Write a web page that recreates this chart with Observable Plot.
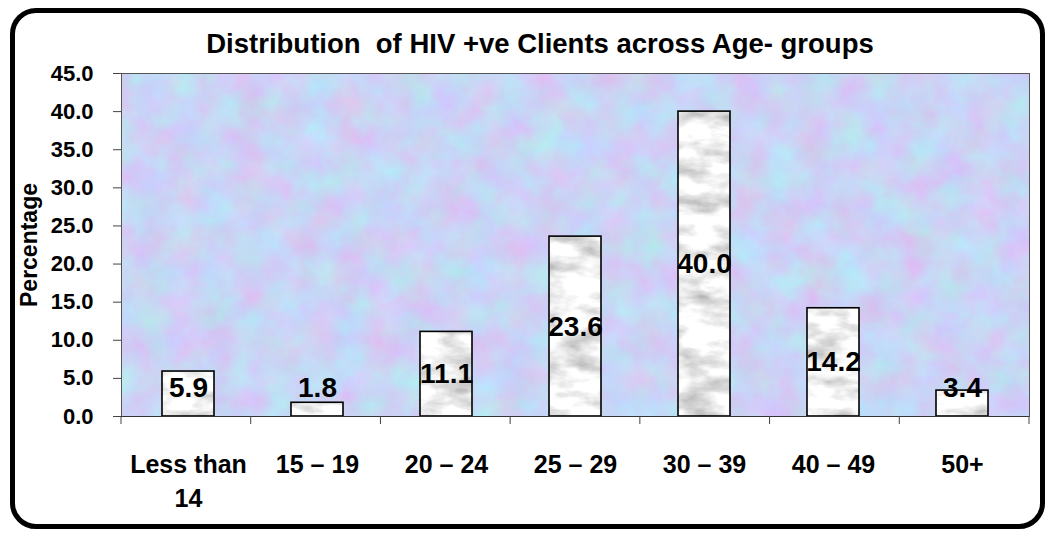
<!DOCTYPE html>
<html>
<head>
<meta charset="utf-8">
<script src="https://cdn.jsdelivr.net/npm/d3@7"></script>
<script src="https://cdn.jsdelivr.net/npm/@observablehq/plot@0.6"></script>
<style>
  html, body { margin: 0; padding: 0; background: #fff; }
  #wrap { position: relative; width: 1047px; height: 533px; overflow: hidden;
          font-family: "Liberation Sans", Arial, sans-serif; }
  #border { position: absolute; left: 10px; top: 8px; width: 1025px; height: 511px;
            border: 5px solid #000; border-radius: 26px; }
  #title { position: relative; height: 60px; box-sizing: border-box; padding-top: 30px;
           width: 1080px; text-align: center; font-weight: bold; font-size: 27.5px;
           line-height: 27.5px; white-space: pre; color: #000; }
  #chart { position: relative; }
</style>
</head>
<body>
<div id="wrap">
  <div id="border"></div>
  <div id="title">Distribution  of HIV +ve Clients across Age- groups</div>
  <div id="chart"></div>
</div>
<script>
const categories = ["Less than 14", "15 – 19", "20 – 24", "25 – 29", "30 – 39", "40 – 49", "50+"];
const tickLabels = ["Less than\n14", "15 – 19", "20 – 24", "25 – 29", "30 – 39", "40 – 49", "50+"];
const percentages = [5.9, 1.8, 11.1, 23.6, 40.0, 14.2, 3.4];
const yTicks = [0, 5, 10, 15, 20, 25, 30, 35, 40, 45];
const yLabel = "Percentage";

const data = categories.map((c, i) => ({group: c, value: percentages[i], tick: tickLabels[i]}));

const boundaryTicks = (index, scales, values, dims) => {
  const n = categories.length;
  const step = (dims.width - dims.marginLeft - dims.marginRight) / n;
  const y0 = dims.height - dims.marginBottom;
  const g = d3.create("svg:g");
  g.selectAll("line").data(d3.range(n + 1)).join("line")
    .attr("x1", i => dims.marginLeft + i * step)
    .attr("x2", i => dims.marginLeft + i * step)
    .attr("y1", y0).attr("y2", y0 + 8)
    .attr("stroke", "#444").attr("stroke-width", 1);
  return g.node();
};

const chart = Plot.plot({
  width: 1047,
  height: 473,
  marginLeft: 121,
  marginRight: 18,
  marginTop: 13,
  marginBottom: 117,
  style: {fontFamily: "'Liberation Sans', Arial, sans-serif", fontWeight: "bold", color: "#000", background: "transparent", overflow: "visible"},
  x: {domain: categories, paddingInner: 0.6, paddingOuter: 0.3, axis: null},
  y: {domain: [0, 45], axis: null},
  marks: [
    Plot.frame({fill: "#c8d4f5", stroke: null}),
    Plot.frame({stroke: "#555", strokeWidth: 1}),
    Plot.barY(data, {x: "group", y: "value", fill: "#ececec"}),
    Plot.barY(data, {x: "group", y: "value", fill: "none", stroke: "#000", strokeWidth: 1.6}),
    Plot.ruleY([0], {stroke: "#333", strokeWidth: 1.2}),
    Plot.axisY({ticks: yTicks, tickSize: 8, tickPadding: 20, tickFormat: d => d.toFixed(1), fontSize: 22, label: null, stroke: "#444"}),
    boundaryTicks,
    Plot.text(data, {x: "group", frameAnchor: "bottom", text: "tick", lineAnchor: "top", dy: 32, fontSize: 25, lineHeight: 1.36}),
    Plot.text(data, {x: "group", y: d => Math.max(d.value / 2, 3.8), text: d => d.value.toFixed(1), fontSize: 28}),
    Plot.text([yLabel], {frameAnchor: "left", textAnchor: "middle", dx: -92, rotate: -90, fontSize: 23})
  ]
});

chart.insertAdjacentHTML("afterbegin", `
<defs>
  <filter id="bgNoise" color-interpolation-filters="sRGB">
    <feTurbulence type="fractalNoise" baseFrequency="0.03" numOctaves="4" seed="7" result="n"/>
    <feColorMatrix in="n" type="matrix" values="0.22 0 0 0 0.68  -0.2 0.1 0 0 0.88  0 0 0.1 0 0.91  0 0 0 0 1" result="c"/>
    <feComposite in="c" in2="SourceGraphic" operator="in"/>
  </filter>
  <filter id="marble" color-interpolation-filters="sRGB">
    <feTurbulence type="fractalNoise" baseFrequency="0.025 0.06" numOctaves="4" seed="3" result="n"/>
    <feColorMatrix in="n" type="matrix" values="0.6 0 0 0 0.64  0.6 0 0 0 0.64  0.6 0 0 0 0.64  0 0 0 0 1" result="c"/>
    <feComposite in="c" in2="SourceGraphic" operator="in"/>
  </filter>
</defs>`);

const frames = chart.querySelectorAll('[aria-label="frame"]');
if (frames.length) frames[0].setAttribute("filter", "url(#bgNoise)");
const bars = chart.querySelectorAll('g[aria-label="bar"]');
if (bars.length) bars[0].setAttribute("filter", "url(#marble)");

document.getElementById("chart").appendChild(chart);
</script>
</body>
</html>
